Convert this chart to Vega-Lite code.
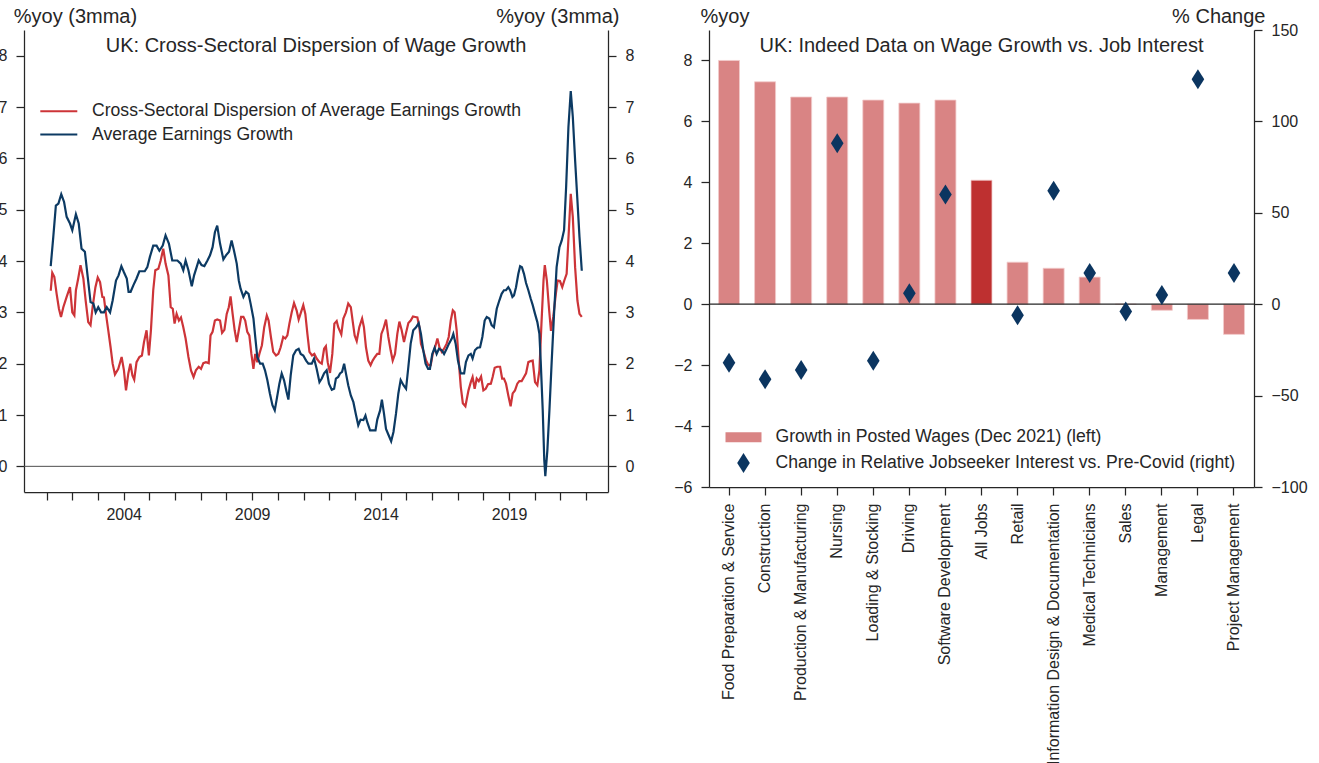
{
"$schema": "https://vega.github.io/schema/vega-lite/v6.json",
"background": "white",
"padding": {"left": -2, "top": 6, "right": 5, "bottom": 0},
"spacing": 39,
"datasets": {
"disp": [
{"t":2001.16,"v":3.42},{"t":2001.22,"v":3.77},{"t":2001.30,"v":3.69},{"t":2001.39,"v":3.36},{"t":2001.48,"v":3.07},{"t":2001.56,"v":2.91},{"t":2001.65,"v":3.10},{"t":2001.78,"v":3.30},{"t":2001.91,"v":3.49},{"t":2002.00,"v":3.00},{"t":2002.08,"v":2.94},{"t":2002.14,"v":3.43},{"t":2002.23,"v":3.66},{"t":2002.32,"v":3.92},{"t":2002.43,"v":3.66},{"t":2002.52,"v":3.23},{"t":2002.62,"v":2.81},{"t":2002.71,"v":2.75},{"t":2002.79,"v":3.10},{"t":2002.90,"v":3.49},{"t":2002.99,"v":3.68},{"t":2003.08,"v":3.59},{"t":2003.17,"v":3.30},{"t":2003.23,"v":3.29},{"t":2003.31,"v":2.97},{"t":2003.40,"v":2.65},{"t":2003.49,"v":2.32},{"t":2003.57,"v":2.00},{"t":2003.66,"v":1.79},{"t":2003.79,"v":1.90},{"t":2003.92,"v":2.13},{"t":2004.01,"v":1.87},{"t":2004.09,"v":1.48},{"t":2004.18,"v":1.81},{"t":2004.26,"v":2.00},{"t":2004.34,"v":1.77},{"t":2004.41,"v":1.69},{"t":2004.50,"v":2.03},{"t":2004.61,"v":2.13},{"t":2004.71,"v":2.16},{"t":2004.79,"v":2.42},{"t":2004.89,"v":2.65},{"t":2004.98,"v":2.16},{"t":2005.06,"v":2.65},{"t":2005.15,"v":3.43},{"t":2005.23,"v":3.82},{"t":2005.35,"v":3.85},{"t":2005.44,"v":4.01},{"t":2005.54,"v":4.24},{"t":2005.63,"v":3.95},{"t":2005.74,"v":3.72},{"t":2005.83,"v":3.10},{"t":2005.91,"v":3.07},
{"t":2005.98,"v":2.78},{"t":2006.06,"v":2.97},{"t":2006.15,"v":2.84},{"t":2006.23,"v":2.90},{"t":2006.32,"v":2.71},{"t":2006.41,"v":2.49},{"t":2006.52,"v":2.13},{"t":2006.62,"v":1.87},{"t":2006.72,"v":1.74},{"t":2006.81,"v":1.87},{"t":2006.92,"v":1.94},{"t":2007.01,"v":1.90},{"t":2007.10,"v":2.01},{"t":2007.20,"v":2.03},{"t":2007.31,"v":2.01},{"t":2007.38,"v":2.55},{"t":2007.46,"v":2.62},{"t":2007.55,"v":2.84},{"t":2007.64,"v":2.86},{"t":2007.75,"v":2.84},{"t":2007.83,"v":2.60},{"t":2007.92,"v":2.66},{"t":2008.01,"v":2.97},{"t":2008.09,"v":3.10},{"t":2008.16,"v":3.31},{"t":2008.24,"v":2.97},{"t":2008.32,"v":2.65},{"t":2008.40,"v":2.42},{"t":2008.49,"v":2.68},{"t":2008.57,"v":2.91},{"t":2008.66,"v":2.91},{"t":2008.73,"v":2.84},{"t":2008.81,"v":2.62},{"t":2008.89,"v":2.55},{"t":2008.97,"v":2.19},{"t":2009.05,"v":1.90},{"t":2009.12,"v":2.19},{"t":2009.20,"v":2.03},{"t":2009.28,"v":2.19},{"t":2009.38,"v":2.36},{"t":2009.47,"v":2.71},{"t":2009.57,"v":2.94},{"t":2009.64,"v":2.84},{"t":2009.73,"v":2.52},{"t":2009.82,"v":2.23},{"t":2009.93,"v":2.16},{"t":2010.02,"v":2.19},{"t":2010.11,"v":2.32},{"t":2010.21,"v":2.52},{"t":2010.29,"v":2.49},{"t":2010.37,"v":2.55},{"t":2010.45,"v":2.78},{"t":2010.54,"v":3.00},{"t":2010.63,"v":3.18},{"t":2010.73,"v":3.04},{"t":2010.81,"v":2.86},{"t":2010.90,"v":3.00},{"t":2010.99,"v":3.14},{"t":2011.07,"v":2.97},{"t":2011.15,"v":2.58},{"t":2011.23,"v":2.23},{"t":2011.33,"v":2.16},{"t":2011.42,"v":2.19},{"t":2011.51,"v":2.10},{"t":2011.62,"v":2.03},{"t":2011.71,"v":2.00},{"t":2011.80,"v":2.29},{"t":2011.87,"v":2.34},{"t":2011.94,"v":2.03},{"t":2012.03,"v":1.82},{"t":2012.12,"v":2.19},{"t":2012.20,"v":2.78},{"t":2012.29,"v":2.83},{"t":2012.35,"v":2.71},
{"t":2012.47,"v":2.57},{"t":2012.55,"v":2.88},{"t":2012.65,"v":3.00},{"t":2012.74,"v":3.17},{"t":2012.84,"v":3.10},{"t":2012.91,"v":2.84},{"t":2012.99,"v":2.55},{"t":2013.07,"v":2.44},{"t":2013.17,"v":2.71},{"t":2013.28,"v":2.88},{"t":2013.35,"v":2.71},{"t":2013.43,"v":2.32},{"t":2013.52,"v":2.06},{"t":2013.61,"v":1.97},{"t":2013.69,"v":2.06},{"t":2013.78,"v":2.13},{"t":2013.87,"v":2.19},{"t":2013.95,"v":2.19},{"t":2014.03,"v":2.58},{"t":2014.11,"v":2.68},{"t":2014.21,"v":2.86},{"t":2014.30,"v":2.52},{"t":2014.39,"v":2.26},{"t":2014.47,"v":2.06},{"t":2014.56,"v":2.19},{"t":2014.65,"v":2.58},{"t":2014.73,"v":2.82},{"t":2014.82,"v":2.65},{"t":2014.91,"v":2.42},{"t":2014.99,"v":2.60},{"t":2015.08,"v":2.79},{"t":2015.17,"v":2.84},{"t":2015.26,"v":2.92},{"t":2015.35,"v":2.91},{"t":2015.43,"v":2.90},{"t":2015.51,"v":2.71},{"t":2015.57,"v":2.39},{"t":2015.66,"v":2.26},{"t":2015.77,"v":2.06},{"t":2015.86,"v":1.97},{"t":2015.95,"v":1.97},{"t":2016.03,"v":2.19},{"t":2016.12,"v":2.32},{"t":2016.21,"v":2.49},{"t":2016.29,"v":2.32},{"t":2016.38,"v":2.23},{"t":2016.47,"v":2.29},{"t":2016.57,"v":2.39},{"t":2016.65,"v":2.52},{"t":2016.73,"v":2.84},{"t":2016.81,"v":3.04},{"t":2016.88,"v":3.00},{"t":2016.96,"v":2.65},{"t":2017.04,"v":2.06},{"t":2017.12,"v":1.55},{"t":2017.20,"v":1.23},{"t":2017.30,"v":1.17},
{"t":2017.42,"v":1.48},{"t":2017.51,"v":1.64},{"t":2017.58,"v":1.74},{"t":2017.66,"v":1.51},{"t":2017.74,"v":1.71},{"t":2017.82,"v":1.66},{"t":2017.91,"v":1.75},{"t":2018.00,"v":1.48},{"t":2018.09,"v":1.51},{"t":2018.18,"v":1.60},{"t":2018.29,"v":1.61},{"t":2018.36,"v":1.74},{"t":2018.44,"v":1.92},{"t":2018.54,"v":1.94},{"t":2018.65,"v":1.94},{"t":2018.73,"v":1.71},{"t":2018.80,"v":1.71},{"t":2018.88,"v":1.61},{"t":2018.97,"v":1.38},{"t":2019.06,"v":1.17},{"t":2019.14,"v":1.42},{"t":2019.23,"v":1.48},{"t":2019.32,"v":1.61},{"t":2019.40,"v":1.66},{"t":2019.49,"v":1.66},{"t":2019.58,"v":1.74},{"t":2019.66,"v":1.81},{"t":2019.75,"v":2.03},{"t":2019.84,"v":2.05},{"t":2019.92,"v":2.06},{"t":2020.01,"v":1.64},{"t":2020.10,"v":1.58},{"t":2020.18,"v":1.87},{"t":2020.26,"v":2.78},{"t":2020.34,"v":3.62},{"t":2020.39,"v":3.92},{"t":2020.47,"v":3.62},{"t":2020.56,"v":3.04},{"t":2020.63,"v":2.64},{"t":2020.72,"v":2.91},{"t":2020.82,"v":3.36},{"t":2020.89,"v":3.62},{"t":2020.98,"v":3.61},{"t":2021.07,"v":3.49},{"t":2021.15,"v":3.62},{"t":2021.24,"v":3.75},{"t":2021.32,"v":4.53},{"t":2021.40,"v":5.31},{"t":2021.48,"v":4.86},{"t":2021.57,"v":3.88},{"t":2021.66,"v":3.23},{"t":2021.74,"v":2.97},{"t":2021.83,"v":2.91}
],
"aeg": [
{"t":2001.16,"v":3.90},{"t":2001.26,"v":4.47},{"t":2001.36,"v":5.08},{"t":2001.46,"v":5.12},{"t":2001.57,"v":5.30},{"t":2001.68,"v":5.15},{"t":2001.78,"v":4.86},{"t":2001.91,"v":4.73},{"t":2002.00,"v":4.60},{"t":2002.14,"v":4.91},{"t":2002.25,"v":4.73},{"t":2002.36,"v":4.24},{"t":2002.49,"v":4.18},{"t":2002.60,"v":3.69},{"t":2002.71,"v":3.20},{"t":2002.82,"v":3.17},{"t":2002.91,"v":3.00},{"t":2003.01,"v":3.10},{"t":2003.12,"v":3.00},{"t":2003.23,"v":3.00},{"t":2003.34,"v":3.10},{"t":2003.47,"v":3.00},{"t":2003.57,"v":3.23},{"t":2003.70,"v":3.62},{"t":2003.80,"v":3.72},{"t":2003.91,"v":3.90},{"t":2004.01,"v":3.78},{"t":2004.12,"v":3.66},{"t":2004.19,"v":3.40},{"t":2004.27,"v":3.40},{"t":2004.38,"v":3.53},{"t":2004.50,"v":3.66},{"t":2004.61,"v":3.80},{"t":2004.82,"v":3.80},{"t":2004.92,"v":3.88},{"t":2005.02,"v":4.08},{"t":2005.15,"v":4.30},{"t":2005.28,"v":4.30},{"t":2005.39,"v":4.20},{"t":2005.52,"v":4.30},{"t":2005.63,"v":4.50},{"t":2005.76,"v":4.34},{"t":2005.89,"v":4.01},
{"t":2006.09,"v":4.01},{"t":2006.22,"v":3.95},{"t":2006.32,"v":3.82},{"t":2006.41,"v":4.01},{"t":2006.52,"v":3.82},{"t":2006.65,"v":3.51},{"t":2006.74,"v":3.72},{"t":2006.84,"v":3.88},{"t":2006.92,"v":4.01},{"t":2007.03,"v":3.92},{"t":2007.14,"v":3.90},{"t":2007.26,"v":4.01},{"t":2007.36,"v":4.11},{"t":2007.46,"v":4.27},{"t":2007.55,"v":4.56},{"t":2007.64,"v":4.69},{"t":2007.75,"v":4.34},{"t":2007.88,"v":4.03},{"t":2007.98,"v":4.11},{"t":2008.10,"v":4.18},{"t":2008.20,"v":4.40},{"t":2008.29,"v":4.21},{"t":2008.40,"v":3.95},{"t":2008.48,"v":3.62},{"t":2008.55,"v":3.46},{"t":2008.66,"v":3.30},{"t":2008.76,"v":3.40},{"t":2008.86,"v":3.36},{"t":2008.94,"v":3.17},{"t":2009.05,"v":2.88},{"t":2009.12,"v":2.52},{"t":2009.20,"v":2.13},{"t":2009.31,"v":2.00},{"t":2009.41,"v":2.00},{"t":2009.50,"v":1.87},{"t":2009.59,"v":1.68},{"t":2009.69,"v":1.42},{"t":2009.79,"v":1.19},{"t":2009.88,"v":1.09},{"t":2009.95,"v":1.29},{"t":2010.06,"v":1.61},{"t":2010.15,"v":1.81},{"t":2010.24,"v":1.68},{"t":2010.34,"v":1.45},{"t":2010.41,"v":1.30},{"t":2010.50,"v":1.77},{"t":2010.60,"v":2.16},{"t":2010.71,"v":2.26},{"t":2010.81,"v":2.29},{"t":2010.89,"v":2.19},{"t":2010.99,"v":2.16},{"t":2011.10,"v":2.06},{"t":2011.19,"v":2.00},{"t":2011.32,"v":2.00},{"t":2011.41,"v":2.10},{"t":2011.51,"v":1.90},{"t":2011.62,"v":1.64},{"t":2011.71,"v":1.71},{"t":2011.80,"v":1.81},{"t":2011.90,"v":1.87},{"t":2011.99,"v":1.61},{"t":2012.10,"v":1.49},{"t":2012.19,"v":1.51},{"t":2012.26,"v":1.71},{"t":2012.35,"v":1.74},
{"t":2012.42,"v":1.81},{"t":2012.50,"v":1.84},{"t":2012.58,"v":2.00},{"t":2012.65,"v":1.81},{"t":2012.74,"v":1.58},{"t":2012.84,"v":1.38},{"t":2012.94,"v":1.25},{"t":2013.03,"v":1.03},{"t":2013.13,"v":0.80},{"t":2013.22,"v":0.91},{"t":2013.33,"v":0.90},{"t":2013.41,"v":0.99},{"t":2013.48,"v":0.86},{"t":2013.59,"v":0.70},{"t":2013.69,"v":0.70},{"t":2013.80,"v":0.70},{"t":2013.87,"v":0.91},{"t":2013.98,"v":1.09},{"t":2014.05,"v":1.30},{"t":2014.13,"v":1.03},{"t":2014.21,"v":0.73},{"t":2014.30,"v":0.62},{"t":2014.41,"v":0.49},{"t":2014.50,"v":0.67},{"t":2014.60,"v":1.03},{"t":2014.69,"v":1.42},{"t":2014.78,"v":1.68},{"t":2014.89,"v":1.58},{"t":2014.99,"v":1.51},{"t":2015.08,"v":1.94},{"t":2015.17,"v":2.39},{"t":2015.27,"v":2.65},{"t":2015.38,"v":2.71},{"t":2015.48,"v":2.79},{"t":2015.57,"v":2.58},{"t":2015.66,"v":2.26},{"t":2015.75,"v":2.00},{"t":2015.85,"v":1.90},{"t":2015.92,"v":1.90},{"t":2016.01,"v":2.19},{"t":2016.10,"v":2.31},{"t":2016.18,"v":2.19},{"t":2016.27,"v":2.29},{"t":2016.38,"v":2.26},{"t":2016.47,"v":2.19},{"t":2016.57,"v":2.29},{"t":2016.66,"v":2.39},{"t":2016.77,"v":2.49},{"t":2016.83,"v":2.58},{"t":2016.92,"v":2.39},{"t":2017.01,"v":2.06},{"t":2017.12,"v":1.81},
{"t":2017.25,"v":1.81},{"t":2017.32,"v":2.03},{"t":2017.42,"v":2.16},{"t":2017.51,"v":2.19},{"t":2017.58,"v":2.10},{"t":2017.67,"v":2.26},{"t":2017.77,"v":2.31},{"t":2017.87,"v":2.32},{"t":2017.96,"v":2.52},{"t":2018.05,"v":2.84},{"t":2018.13,"v":2.91},{"t":2018.23,"v":2.88},{"t":2018.32,"v":2.75},{"t":2018.41,"v":2.71},{"t":2018.52,"v":3.07},{"t":2018.62,"v":3.23},{"t":2018.71,"v":3.36},{"t":2018.80,"v":3.43},{"t":2018.88,"v":3.43},{"t":2018.97,"v":3.49},{"t":2019.04,"v":3.43},{"t":2019.13,"v":3.30},{"t":2019.19,"v":3.33},{"t":2019.27,"v":3.49},{"t":2019.36,"v":3.75},{"t":2019.43,"v":3.90},{"t":2019.50,"v":3.88},{"t":2019.58,"v":3.75},{"t":2019.66,"v":3.57},{"t":2019.75,"v":3.43},{"t":2019.84,"v":3.27},{"t":2019.92,"v":3.14},{"t":2020.01,"v":2.97},{"t":2020.10,"v":2.81},{"t":2020.18,"v":2.58},{"t":2020.23,"v":2.06},{"t":2020.31,"v":1.09},{"t":2020.37,"v":0.12},{"t":2020.41,"v":-0.19},{"t":2020.49,"v":0.31},{"t":2020.57,"v":1.09},{"t":2020.66,"v":2.06},{"t":2020.75,"v":2.97},{"t":2020.85,"v":3.88},{"t":2020.96,"v":4.27},{"t":2021.05,"v":4.40},{"t":2021.14,"v":4.60},{"t":2021.22,"v":5.44},{"t":2021.31,"v":6.61},{"t":2021.40,"v":7.31},{"t":2021.48,"v":6.81},{"t":2021.57,"v":5.96},{"t":2021.66,"v":5.18},{"t":2021.74,"v":4.47},{"t":2021.83,"v":3.81}
],
"bars": [
{"job":"Food Preparation & Service","wage":8.0},{"job":"Construction","wage":7.3},{"job":"Production & Manufacturing","wage":6.8},{"job":"Nursing","wage":6.8},{"job":"Loading & Stocking","wage":6.7},{"job":"Driving","wage":6.6},{"job":"Software Development","wage":6.7},{"job":"All Jobs","wage":4.07},{"job":"Retail","wage":1.38},{"job":"Information Design & Documentation","wage":1.18},{"job":"Medical Technicians","wage":0.89},{"job":"Sales","wage":0.0},{"job":"Management","wage":-0.2},{"job":"Legal","wage":-0.5},{"job":"Project Management","wage":-0.99}
],
"pts": [
{"job":"Food Preparation & Service","chg":-32},{"job":"Construction","chg":-41},{"job":"Production & Manufacturing","chg":-36},{"job":"Nursing","chg":88},{"job":"Loading & Stocking","chg":-31},{"job":"Driving","chg":6},{"job":"Software Development","chg":60},{"job":"Retail","chg":-6},{"job":"Information Design & Documentation","chg":62},{"job":"Medical Technicians","chg":17},{"job":"Sales","chg":-4},{"job":"Management","chg":5},{"job":"Legal","chg":123},{"job":"Project Management","chg":17}
]
},
"hconcat": [
{
"width": 584, "height": 462,
"title": {"text": "UK: Cross-Sectoral Dispersion of Wage Growth", "anchor": "middle", "frame": "group", "baseline": "alphabetic", "offset": -66},
"layer": [
{"data": {"values": [{}]},
 "mark": {"type": "rule", "color": "#4d4d4d", "strokeWidth": 1},
 "encoding": {"y": {"datum": 0, "type": "quantitative", "scale": {"domain": [-0.5, 8.5], "nice": false, "zero": false},
   "axis": {"orient": "right", "values": [0,1,2,3,4,5,6,7,8], "title": "%yoy (3mma)", "titleAngle": 0, "titleAlign": "right", "titleBaseline": "alphabetic", "titleX": 11, "titleY": -8}}}},
{"data": {"name": "disp"},
 "mark": {"type": "line", "strokeWidth": 2.2},
 "encoding": {
  "x": {"field": "t", "type": "quantitative", "scale": {"domain": [2000.12, 2022.85], "nice": false, "zero": false},
    "axis": {"values": [2001,2002,2003,2004,2005,2006,2007,2008,2009,2010,2011,2012,2013,2014,2015,2016,2017,2018,2019,2020,2021,2022], "tickCount": 40, "labelExpr": "datum.value % 5 == 4 ? format(datum.value, 'd') : ''", "title": null, "labelPadding": 6, "labelOverlap": false, "labelFlush": false}},
  "y": {"field": "v", "type": "quantitative", "scale": {"domain": [-0.5, 8.5], "nice": false, "zero": false},
    "axis": {"orient": "left", "values": [0,1,2,3,4,5,6,7,8], "title": "%yoy (3mma)", "titleAngle": 0, "titleAlign": "left", "titleBaseline": "alphabetic", "titleX": -10.7, "titleY": -8}},
  "color": {"datum": "Cross-Sectoral Dispersion of Average Earnings Growth", "type": "nominal",
    "scale": {"domain": ["Cross-Sectoral Dispersion of Average Earnings Growth", "Average Earnings Growth"], "range": ["#cd3438", "#0c3a63"]},
    "legend": {"title": null, "orient": "none", "legendX": 23.8, "legendY": 70.3, "symbolType": "M-1.85,0H1.85", "symbolSize": 400, "symbolStrokeWidth": 2, "labelOffset": 22.2, "rowPadding": 3.3, "padding": 0, "labelFontSize": 17.6, "labelLimit": 0}}
 }},
{"data": {"name": "aeg"},
 "mark": {"type": "line", "strokeWidth": 2.2},
 "encoding": {
  "x": {"field": "t", "type": "quantitative"},
  "y": {"field": "v", "type": "quantitative", "axis": null},
  "color": {"datum": "Average Earnings Growth", "type": "nominal"}
 }}
],
"resolve": {"axis": {"y": "independent"}}
},
{
"width": 545, "height": 457,
"title": {"text": "UK: Indeed Data on Wage Growth vs. Job Interest", "anchor": "middle", "frame": "group", "baseline": "alphabetic", "offset": -66},
"layer": [
{"data": {"name": "bars"},
 "mark": {"type": "bar", "stroke": "#f3cccc", "strokeWidth": 0.8},
 "encoding": {
  "x": {"field": "job", "type": "nominal", "sort": null,
    "scale": {"domain": ["Food Preparation & Service","Construction","Production & Manufacturing","Nursing","Loading & Stocking","Driving","Software Development","All Jobs","Retail","Information Design & Documentation","Medical Technicians","Sales","Management","Legal","Project Management"], "paddingInner": 0.418, "paddingOuter": 0.264},
    "axis": {"title": null, "labelAngle": -90, "labelAlign": "right", "labelBaseline": "middle", "labelPadding": 8, "labelLimit": 0}},
  "y": {"field": "wage", "type": "quantitative", "scale": {"domain": [-6, 9], "nice": false, "zero": false},
    "axis": {"values": [-6,-4,-2,0,2,4,6,8], "title": "%yoy", "titleAngle": 0, "titleAlign": "left", "titleBaseline": "alphabetic", "titleX": -9, "titleY": -8}},
  "color": {"condition": {"test": "datum.job === 'All Jobs'", "value": "#be3030"},
    "datum": "Growth in Posted Wages (Dec 2021) (left)", "type": "nominal",
    "scale": {"domain": ["Growth in Posted Wages (Dec 2021) (left)", "Change in Relative Jobseeker Interest vs. Pre-Covid (right)"], "range": ["#d98484", "#0b3560"]},
    "legend": {"title": null, "orient": "none", "legendX": 24.5, "legendY": 397.3, "symbolSize": 400, "labelOffset": 22, "rowPadding": 6.7, "padding": 0, "labelFontSize": 17.6, "labelLimit": 0, "symbolStrokeWidth": 0, "symbolOpacity": 1}}
 }},
{"data": {"values": [{}]},
 "mark": {"type": "rule", "color": "#262626", "strokeWidth": 1.2},
 "encoding": {"y": {"datum": 0, "type": "quantitative", "scale": {"domain": [-6, 9], "nice": false, "zero": false}, "axis": null}}},
{"data": {"name": "pts"},
 "mark": {"type": "point", "filled": true, "opacity": 1, "size": 400},
 "encoding": {
  "x": {"field": "job", "type": "nominal", "sort": null},
  "y": {"field": "chg", "type": "quantitative", "scale": {"domain": [-100, 150], "nice": false, "zero": false},
    "axis": {"orient": "right", "values": [-100,-50,0,50,100,150], "title": "% Change", "titleAngle": 0, "titleAlign": "right", "titleBaseline": "alphabetic", "titleX": 11, "titleY": -8}},
  "color": {"datum": "Change in Relative Jobseeker Interest vs. Pre-Covid (right)", "type": "nominal"},
  "shape": {"datum": "Change in Relative Jobseeker Interest vs. Pre-Covid (right)", "type": "nominal",
    "scale": {"domain": ["Growth in Posted Wages (Dec 2021) (left)", "Change in Relative Jobseeker Interest vs. Pre-Covid (right)"], "range": ["M-1.8,-0.5H1.8V0.5H-1.8Z", "M0,-1L0.63,0L0,1L-0.63,0Z"]},
    "legend": {"title": null, "orient": "none", "legendX": 24.5, "legendY": 397.3, "symbolSize": 400, "labelOffset": 22, "rowPadding": 6.7, "padding": 0, "labelFontSize": 17.6, "labelLimit": 0, "symbolStrokeWidth": 0, "symbolOpacity": 1}}
 }}
],
"resolve": {"scale": {"y": "independent"}}
}
],
"resolve": {"scale": {"color": "independent", "shape": "independent"}, "legend": {"color": "independent", "shape": "independent"}},
"config": {
 "font": "Liberation Sans",
 "view": {"stroke": null},
 "axis": {"grid": false, "domainColor": "#262626", "domainWidth": 1.25, "tickColor": "#262626", "tickWidth": 1.25, "tickSize": 8, "labelFontSize": 16, "labelColor": "#262626", "labelPadding": 9, "titleFontSize": 20, "titleFontWeight": "normal", "titleColor": "#262626"},
 "legend": {"labelColor": "#262626"},
 "title": {"fontSize": 20, "fontWeight": "normal", "color": "#262626"}
}
}
